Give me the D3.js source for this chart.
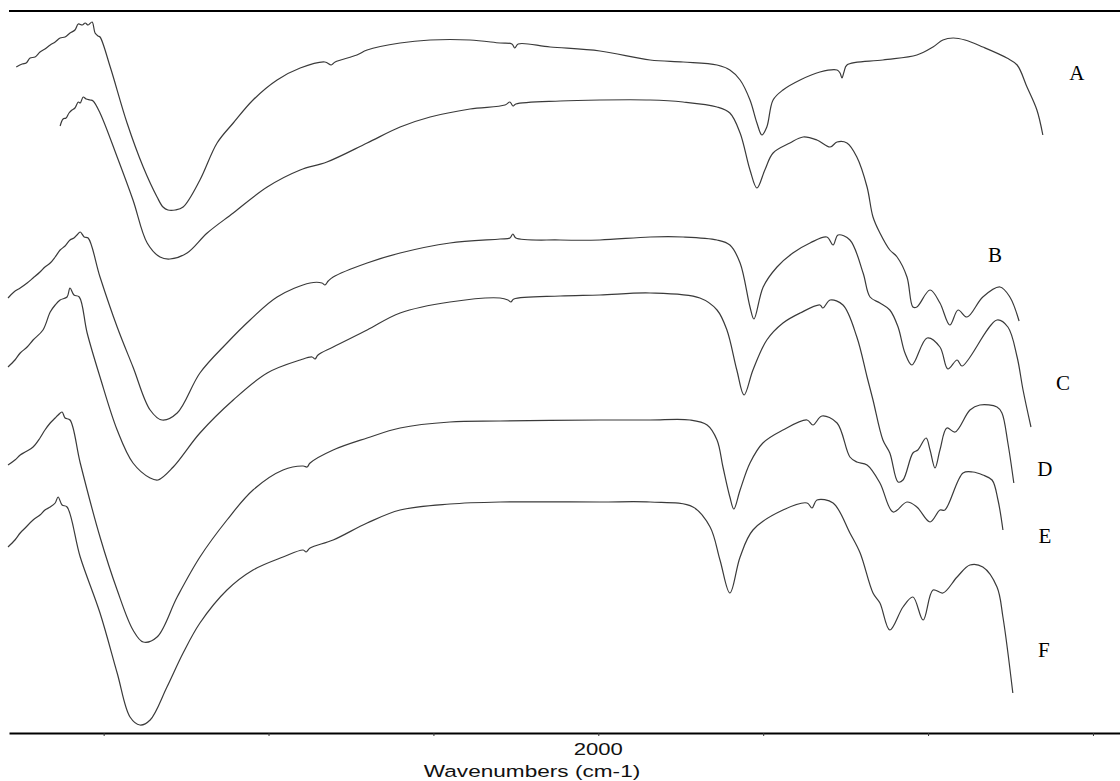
<!DOCTYPE html>
<html>
<head>
<meta charset="utf-8">
<script src="https://cdn.jsdelivr.net/npm/d3@7"></script>
<style>
  body { margin: 0; background: #fff; }
  svg { display: block; }
</style>
</head>
<body>
<div id="chart"></div>
<script>
// spectra: [wavenumber cm-1, offset transmittance (a.u.)]
var specA = [[3765,666],[3747,669],[3735,670],[3723,675],[3708,676],[3693,681],[3678,684],[3662,688],[3647,691],[3632,695],[3617,696],[3602,700],[3587,703],[3577,709],[3565,708],[3556,710],[3547,708],[3535,711],[3526,700],[3517,697],[3511,696],[3480,666],[3429,610],[3380,566],[3338,536],[3320,526],[3305,523],[3283,523],[3259,526],[3208,553],[3156,590],[3107,610],[3047,633],[2974,653],[2904,665],[2829,671],[2810,668],[2798,671],[2732,678],[2701,683],[2601,690],[2510,693],[2389,693],[2298,690],[2262,689],[2253,685],[2243,689],[2146,686],[1995,682],[1843,673],[1743,671],[1640,668],[1601,663],[1570,653],[1540,633],[1519,610],[1504,598],[1489,606],[1470,633],[1440,643],[1388,653],[1328,661],[1276,663],[1267,660],[1261,655],[1255,661],[1246,668],[1137,673],[1034,678],[985,686],[955,693],[924,695],[888,693],[834,686],[761,675],[730,668],[700,646],[670,623],[652,598]];
var specB = [[3632,607],[3623,614],[3614,615],[3605,620],[3596,623],[3587,625],[3577,631],[3571,630],[3562,636],[3553,634],[3541,633],[3532,632],[3511,620],[3459,576],[3411,533],[3368,490],[3329,476],[3299,474],[3247,480],[3186,500],[3107,520],[3004,546],[2904,563],[2823,571],[2701,590],[2601,606],[2510,616],[2389,624],[2283,628],[2268,631],[2259,627],[2250,629],[2116,632],[1995,633],[1843,633],[1743,631],[1640,626],[1601,620],[1570,600],[1540,563],[1519,545],[1495,563],[1470,580],[1419,590],[1379,596],[1337,593],[1297,586],[1276,591],[1246,590],[1216,576],[1185,546],[1167,516],[1146,500],[1116,483],[1094,476],[1064,456],[1046,426],[1034,426],[994,443],[964,430],[934,408],[909,423],[882,416],[834,436],[782,446],[752,436],[724,412]];
var specC = [[3790,435],[3772,441],[3753,445],[3732,450],[3714,455],[3693,461],[3678,466],[3662,470],[3647,476],[3632,483],[3617,487],[3602,493],[3590,495],[3581,498],[3571,501],[3559,496],[3547,495],[3511,456],[3459,406],[3411,366],[3359,323],[3323,313],[3277,320],[3208,360],[3126,390],[3056,413],[2974,436],[2874,450],[2838,450],[2829,448],[2819,452],[2804,456],[2701,470],[2601,480],[2450,490],[2298,494],[2268,495],[2259,499],[2250,495],[2116,493],[1995,493],[1843,496],[1743,496],[1640,493],[1601,488],[1570,470],[1540,426],[1528,414],[1500,446],[1458,466],[1410,480],[1358,490],[1307,496],[1288,488],[1273,498],[1237,493],[1197,460],[1176,436],[1146,430],[1116,423],[1091,406],[1070,380],[1049,368],[1003,395],[964,386],[940,364],[912,373],[897,367],[791,413],[758,406],[730,376],[712,343],[688,306]];
var specD = [[3790,366],[3769,373],[3753,380],[3732,386],[3714,393],[3684,403],[3662,421],[3647,428],[3632,433],[3611,436],[3602,445],[3590,438],[3574,436],[3550,400],[3511,356],[3459,303],[3411,270],[3359,255],[3335,253],[3289,266],[3208,300],[3107,333],[3004,360],[2904,373],[2868,376],[2859,374],[2850,378],[2804,386],[2701,403],[2601,420],[2450,431],[2298,435],[2274,433],[2265,431],[2256,434],[2116,437],[1995,438],[1843,440],[1692,435],[1640,423],[1610,403],[1580,363],[1558,338],[1531,363],[1489,393],[1440,410],[1388,420],[1328,428],[1319,425],[1297,433],[1258,428],[1216,396],[1185,356],[1167,333],[1137,293],[1116,280],[1091,251],[1076,253],[1046,280],[1031,283],[1006,295],[994,283],[979,265],[964,283],[943,305],[918,301],[873,323],[843,328],[791,326],[776,320],[758,290],[740,250]];
var specE = [[3790,268],[3769,273],[3753,278],[3738,281],[3714,286],[3693,295],[3678,303],[3662,310],[3647,315],[3638,318],[3626,321],[3617,315],[3602,313],[3571,270],[3511,196],[3459,143],[3411,103],[3380,91],[3338,96],[3277,136],[3208,176],[3126,213],[3047,243],[2956,263],[2895,267],[2883,266],[2874,270],[2804,283],[2701,295],[2601,305],[2450,311],[2298,312],[1995,313],[1843,313],[1722,313],[1670,308],[1640,293],[1622,266],[1601,236],[1589,224],[1570,243],[1540,270],[1501,290],[1440,303],[1367,313],[1349,308],[1322,317],[1276,310],[1237,276],[1216,271],[1185,268],[1146,250],[1106,221],[1064,231],[1034,226],[994,211],[964,223],[949,223],[894,260],[864,261],[834,258],[806,253],[788,233],[773,203]];
var specF = [[3790,186],[3769,193],[3753,200],[3738,205],[3714,213],[3693,218],[3678,223],[3662,226],[3647,230],[3638,236],[3626,228],[3611,226],[3571,176],[3511,120],[3459,60],[3420,16],[3390,8],[3359,13],[3308,46],[3259,80],[3208,110],[3126,143],[3047,163],[2956,176],[2895,183],[2886,181],[2874,185],[2804,193],[2701,210],[2601,223],[2450,229],[2298,231],[1995,231],[1843,231],[1713,226],[1661,206],[1631,173],[1601,140],[1570,176],[1531,203],[1440,223],[1367,230],[1352,225],[1337,233],[1288,230],[1237,200],[1206,180],[1167,140],[1146,130],[1116,103],[1076,126],[1046,136],[1015,113],[985,143],[955,140],[912,156],[873,168],[834,166],[791,146],[773,116],[743,40]];

var seriesNames = ["A", "B", "C", "D", "E", "F"];
// where each letter sits (baseline): [wavenumber, a.u.]
var labelPos = [[549,653],[797,471],[591,343],[646,257],[646,190],[649,76]];
var tickValues = [3500, 3000, 2500, 2000, 1500, 1000, 500];
var tickLabels = ["", "", "", "2000", "", "", ""];
var xTitle = "Wavenumbers (cm-1)";

var width = 1120, height = 781;

var svg = d3.select("#chart").append("svg")
    .attr("width", width)
    .attr("height", height);

var x = d3.scaleLinear().domain([3787, 418]).range([9, 1120]);
var y = d3.scaleLinear().domain([0, 722]).range([733, 11]);

// top frame line
svg.append("line")
    .attr("x1", x.range()[0]).attr("x2", x.range()[1])
    .attr("y1", y(722)).attr("y2", y(722))
    .style("stroke", "#000").style("stroke-width", 2.2);

var axis = svg.append("g")
    .attr("transform", "translate(0," + y(0) + ")")
    .call(d3.axisBottom(x)
        .tickValues(tickValues)
        .tickSize(3)
        .tickSizeOuter(0)
        .tickFormat(function(d, i) { return tickLabels[i]; }));

axis.select(".domain").style("stroke", "#000").style("stroke-width", 2.2);
axis.selectAll(".tick line").style("stroke", "#333").style("stroke-width", 1);
axis.selectAll(".tick text").remove();

// tick labels, the scanned text is a bit wide so stretch it
tickValues.forEach(function(v, i) {
  if (!tickLabels[i]) return;
  svg.append("text")
      .attr("transform", "translate(" + x(v) + "," + 755 + ") scale(1.3,1)")
      .attr("text-anchor", "middle")
      .style("font-family", "'Liberation Sans', Arial, sans-serif")
      .style("font-size", "17px")
      .style("fill", "#111")
      .text(tickLabels[i]);
});

svg.append("text")
    .attr("transform", "translate(532,777) scale(1.33,1)")
    .attr("text-anchor", "middle")
    .style("font-family", "'Liberation Sans', Arial, sans-serif")
    .style("font-size", "17px")
    .style("fill", "#111")
    .text(xTitle);

var line = d3.line()
    .x(function(d) { return x(d[0]); })
    .y(function(d) { return y(d[1]); })
    .curve(d3.curveCatmullRom.alpha(0.5));

var allSpectra = [specA, specB, specC, specD, specE, specF];

svg.selectAll("path.spec")
    .data(allSpectra)
  .enter().append("path")
    .attr("class", "spec")
    .attr("d", line)
    .style("fill", "none")
    .style("stroke", "#3a3a3a")
    .style("stroke-width", 1.2);

svg.selectAll("text.lab")
    .data(seriesNames)
  .enter().append("text")
    .attr("class", "lab")
    .attr("x", function(d, i) { return x(labelPos[i][0]); })
    .attr("y", function(d, i) { return y(labelPos[i][1]); })
    .attr("text-anchor", "middle")
    .style("font-family", "'Liberation Serif', 'Times New Roman', serif")
    .style("font-size", "21px")
    .style("fill", "#000")
    .text(function(d) { return d; });
</script>
</body>
</html>
